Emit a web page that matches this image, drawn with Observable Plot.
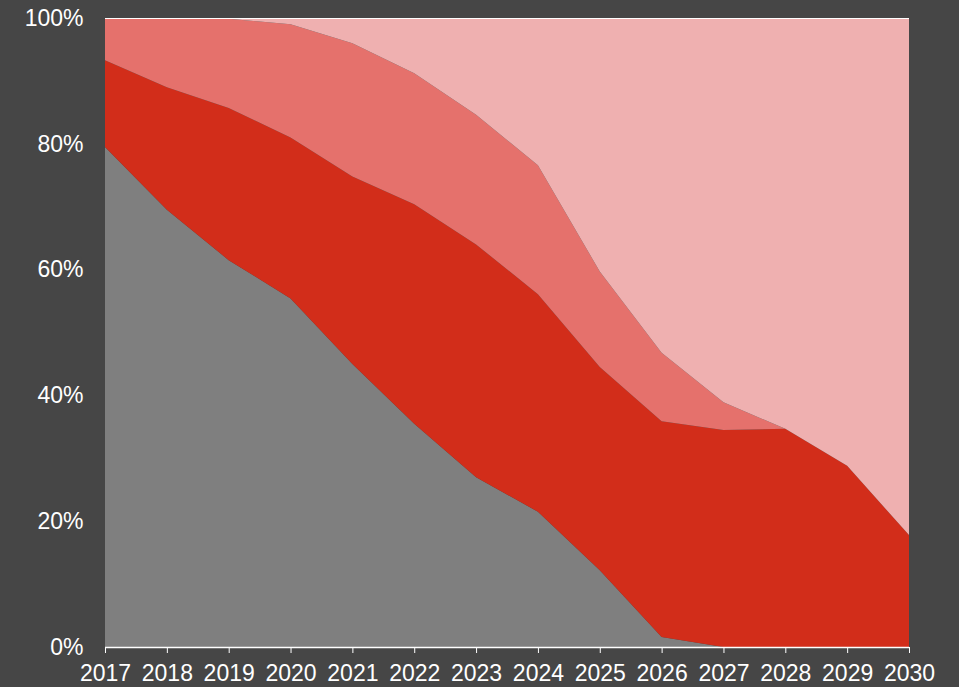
<!DOCTYPE html>
<html>
<head>
<meta charset="utf-8">
<script src="https://cdn.jsdelivr.net/npm/d3@7"></script>
<script src="https://cdn.jsdelivr.net/npm/@observablehq/plot@0.6"></script>
<style>
  html, body { margin: 0; padding: 0; background: #464646; }
  #chart { width: 959px; height: 687px; }
</style>
</head>
<body>
<div id="chart"></div>
<script>
const years = [2017, 2018, 2019, 2020, 2021, 2022, 2023, 2024, 2025, 2026, 2027, 2028, 2029, 2030];
const seriesNames = ["Series A", "Series B", "Series C", "Series D"];
const seriesA = [79.5, 69.5, 61.5, 55.4, 45.0, 35.5, 27.0, 21.5, 12.2, 1.6, 0, 0, 0, 0];
const seriesB = [13.8, 19.5, 24.2, 25.6, 29.8, 34.9, 37.0, 34.6, 32.3, 34.3, 34.5, 34.7, 28.8, 17.8];
const seriesC = [6.7, 11.0, 14.2, 18.0, 21.2, 20.8, 20.6, 20.5, 15.2, 10.9, 4.4, 0, 0, 0];
const seriesD = [0, 0, 0.1, 1.0, 4.0, 8.8, 15.4, 23.4, 40.3, 53.2, 61.1, 65.3, 71.2, 82.2];
const yTicks = [0, 20, 40, 60, 80, 100];
const colors = ["#7f7f7f", "#d22d1a", "#e5716c", "#efb0b0"];

const valueSets = [seriesA, seriesB, seriesC, seriesD];
const data = [];
seriesNames.forEach((s, i) => {
  years.forEach((yr, j) => data.push({year: yr, series: s, value: valueSets[i][j]}));
});

const chart = Plot.plot({
  width: 959,
  height: 687,
  marginLeft: 105,
  marginRight: 50,
  marginTop: 18,
  marginBottom: 40,
  style: {
    background: "#464646",
    color: "#ffffff",
    fontFamily: "'Liberation Sans', Arial, sans-serif",
    fontSize: "23px"
  },
  x: {domain: [2017, 2030], ticks: years, tickFormat: "d", tickSize: 6, tickPadding: 11, label: null},
  y: {domain: [0, 100], ticks: yTicks, tickFormat: d => d + "%", tickSize: 0, tickPadding: 22, label: null},
  color: {type: "ordinal", domain: seriesNames, range: colors},
  marks: [
    Plot.areaY(data, {x: "year", y: "value", z: "series", fill: "series", order: null}),
    Plot.ruleY([100], {stroke: "#ffffff", strokeWidth: 1}),
    Plot.ruleY([0], {stroke: "#ffffff", strokeWidth: 1.5})
  ]
});
document.getElementById("chart").appendChild(chart);
</script>
</body>
</html>
